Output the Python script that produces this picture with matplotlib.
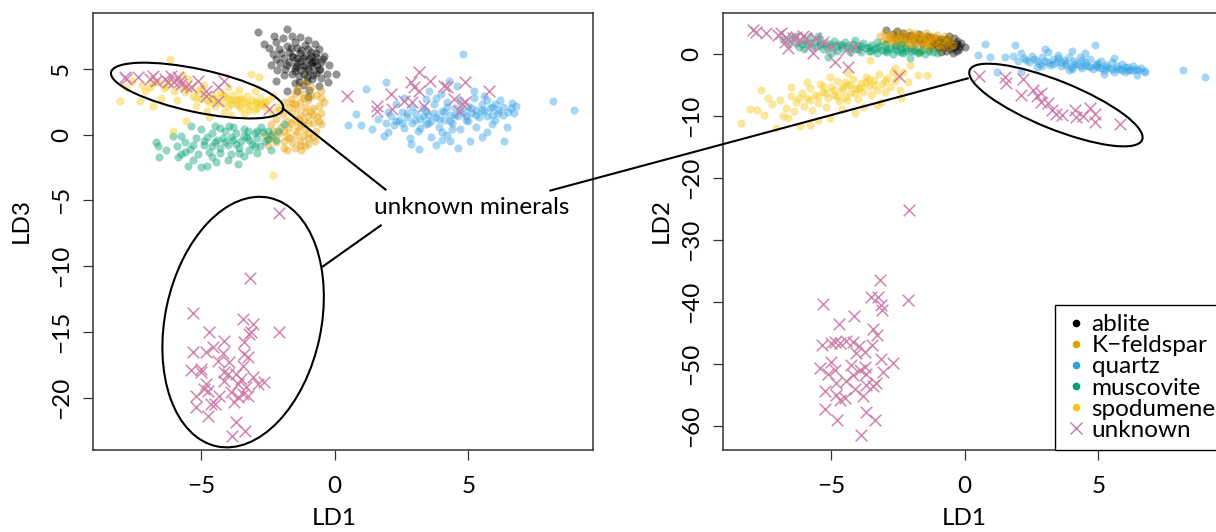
import numpy as np
import matplotlib
matplotlib.use("Agg")
import matplotlib.pyplot as plt
from matplotlib.patches import Ellipse, ConnectionPatch
from matplotlib.lines import Line2D
from matplotlib.transforms import ScaledTranslation

plt.rcParams['font.family'] = ['Lato', 'DejaVu Sans']
FS = 17.5

# ---------------------------------------------------------------- data
classes = ["ablite", "K\u2212feldspar", "quartz", "muscovite", "spodumene"]
class_colors = ["#000000", "#E69F00", "#2D9FE3", "#009E73", "#F5C710"]
unknown_label = "unknown"
unknown_color = "#CC79A7"

x_ticks = [-5, 0, 5]
ld3_ticks = [-20, -15, -10, -5, 0, 5]
ld2_ticks = [-60, -50, -40, -30, -20, -10, 0]

# LD1 / LD3 scores
ablite_ld13 = np.array([
    (-2.88, 7.77), (-1.77, 8.03), (-2.29, 7.45), (-2.64, 6.89), (-2.45, 6.6), (-2.2, 7.0),
    (-1.95, 7.3), (-1.6, 7.5), (-1.3, 7.4), (-1.0, 7.2), (-0.75, 6.9), (-1.5, 7.0),
    (-2.1, 6.5), (-1.8, 6.7), (-1.4, 6.6), (-1.1, 6.8), (-0.6, 6.5), (-0.4, 6.0),
    (-2.3, 6.1), (-2.0, 6.2), (-1.7, 6.3), (-1.3, 6.2), (-0.9, 6.3), (-0.7, 5.9),
    (-2.2, 5.7), (-1.9, 5.8), (-1.55, 5.9), (-1.2, 5.8), (-0.95, 5.7), (-0.5, 5.5),
    (-0.2, 5.3), (-2.4, 5.3), (-2.05, 5.4), (-1.7, 5.5), (-1.4, 5.4), (-1.1, 5.3),
    (-0.8, 5.2), (-0.55, 5.0), (-2.15, 4.9), (-1.85, 5.0), (-1.5, 5.05), (-1.25, 4.9),
    (-0.95, 4.85), (-0.7, 4.7), (-0.3, 4.6), (0.04, 4.61), (-2.2, 4.1), (-1.9, 4.5),
    (-1.6, 4.6), (-1.35, 4.45), (-1.05, 4.4), (-0.85, 4.2), (-0.5, 4.3), (-0.27, 3.97),
    (-1.77, 3.34), (-1.5, 3.9), (-1.2, 3.8), (-0.6, 3.7), (-1.02, 2.84), (-1.4, 3.3),
    (-1.1, 6.0), (-1.3, 5.6), (-0.85, 5.5), (-1.0, 5.0), (-1.15, 4.6), (-0.75, 5.6),
    (-1.6, 6.0), (-0.9, 6.0), (-1.45, 5.2), (-0.65, 5.3),
    (-1.2, 5.2), (-0.9, 5.4), (-1.4, 5.8), (-1.0, 6.5), (-0.7, 6.2), (-1.5, 4.8),
    (-1.25, 6.4), (-0.6, 4.9), (-1.8, 5.3), (-1.05, 4.1), (-0.45, 5.7), (-1.65, 6.6),
    (-0.95, 3.4), (-1.35, 4.0), (-0.8, 4.5),
])
kfeldspar_ld13 = np.array([
    (-1.16, 3.97), (-0.52, 3.34), (-0.4, 2.45), (-1.64, 2.71), (-1.95, 1.57), (-2.32, 0.3),
    (-2.2, -0.58), (-1.77, -1.2), (-1.27, -1.2), (-1.02, -0.71), (-1.39, 0.55), (-1.15, 1.06),
    (-0.9, 1.82), (-0.65, 1.31), (-2.51, -0.33), (-1.4, 3.5), (-0.9, 3.6), (-0.7, 3.0),
    (-1.2, 3.1), (-1.5, 3.1), (-1.9, 2.5), (-1.3, 2.5), (-1.0, 2.6), (-0.6, 2.2),
    (-1.7, 2.1), (-1.4, 2.0), (-1.1, 2.1), (-0.8, 2.0), (-2.1, 1.9), (-1.6, 1.6),
    (-1.3, 1.5), (-1.0, 1.4), (-0.5, 1.6), (-2.2, 1.2), (-1.8, 1.0), (-1.5, 1.1),
    (-0.8, 0.9), (-0.5, 0.8), (-2.4, 0.8), (-2.0, 0.6), (-1.7, 0.5), (-1.1, 0.4),
    (-0.7, 0.3), (-2.1, 0.1), (-1.8, -0.1), (-1.5, 0.0), (-1.2, -0.1), (-0.8, -0.2),
    (-2.5, -0.8), (-1.9, -0.5), (-1.6, -0.6), (-1.3, -0.5), (-1.0, -0.3), (-1.5, -1.0),
    (-1.1, -0.9), (-1.9, -1.0), (-0.75, -0.5), (-1.25, 0.8), (-1.6, 2.4), (-2.6, 0.0),
    (-1.2, 2.8), (-0.9, 2.9), (-1.5, 2.3), (-1.1, 1.7), (-0.8, 1.5), (-1.35, 1.2),
    (-1.65, 0.9), (-1.0, 0.9), (-0.6, 1.0), (-1.4, 0.3), (-1.9, 0.3), (-0.95, 0.1),
    (-1.7, -0.3), (-1.3, -0.8), (-2.3, -0.2), (-0.5, 2.8),
])
quartz_ld13 = np.array([
    (0.5, 0.76), (0.78, 1.57), (0.97, 0.76), (1.16, 3.47), (1.9, 3.97), (1.84, -0.15),
    (8.18, 2.53), (8.97, 1.9), (6.63, 2.38), (6.44, 0.55), (6.32, -0.46), (3.15, -1.09),
    (2.84, -0.71), (4.33, -0.46), (5.07, -0.46), (5.7, 0.17), (3.52, 3.34), (4.27, 4.1),
    (4.58, 3.72), (5.2, 3.34), (3.96, 3.09), (4.8, 6.15),
    (1.6, 1.2), (1.9, 0.9), (2.1, 1.4), (2.2, 0.7), (2.4, 1.1), (2.5, 1.7), (2.6, 0.5),
    (2.7, 1.3), (2.9, 0.9), (3.0, 1.6), (3.1, 0.3), (3.2, 1.2), (3.3, 2.0), (3.4, 0.8),
    (3.5, 1.5), (3.6, 1.0), (3.7, 2.3), (3.8, 1.3), (3.9, 0.6), (4.0, 1.8), (4.1, 1.1),
    (4.2, 2.5), (4.3, 1.5), (4.4, 0.9), (4.5, 2.0), (4.6, 1.4), (4.7, 2.6), (4.8, 1.7),
    (4.9, 1.1), (5.0, 2.2), (5.1, 1.6), (5.2, 2.8), (5.3, 1.9), (5.4, 1.3), (5.5, 2.3),
    (5.6, 1.8), (5.7, 2.6), (5.8, 2.0), (5.9, 1.5), (6.0, 2.3), (6.1, 1.9), (6.2, 2.6),
    (6.3, 2.1), (6.5, 1.7), (6.6, 2.0), (6.8, 2.2), (2.3, 2.3), (2.0, 0.2), (2.8, -0.3),
    (3.6, -0.2), (4.0, 0.2), (4.7, 0.4), (5.3, 0.6), (5.9, 0.8), (3.4, 2.7), (2.6, 2.8),
    (1.4, 0.4), (4.6, -1.0), (3.8, -0.8), (5.5, -0.2), (2.9, 2.1), (4.2, 0.0), (6.0, 1.1),
    (2.3, 1.0), (2.7, 1.6), (3.0, 1.1), (3.3, 1.4), (3.5, 0.9), (3.7, 1.6), (3.9, 1.2),
    (4.1, 1.7), (4.3, 1.0), (4.5, 1.5), (4.7, 1.9), (4.9, 1.4), (5.1, 2.0), (5.3, 1.5),
    (5.5, 1.9), (5.7, 1.4), (5.9, 2.1), (6.1, 1.6), (6.3, 1.5), (4.2, 2.1), (3.4, 1.8),
    (2.5, 0.9), (5.0, 1.0), (4.4, 0.4), (3.2, 0.5), (6.7, 1.6), (2.0, 1.7), (3.8, 2.8),
    (5.6, 2.9), (4.0, -0.4),
])
muscovite_ld13 = np.array([
    (-6.68, -0.58), (-6.62, -0.84), (-6.56, -1.72), (-6.06, -0.08), (-5.75, -0.08), (-5.5, -2.36),
    (-5.37, 0.68), (-5.0, 0.43), (-4.5, 0.68), (-4.44, -2.1), (-3.94, 0.68), (-3.63, -2.23),
    (-3.26, 0.3), (-2.76, 0.55), (-2.51, -0.33), (-2.14, 0.3), (-1.89, 0.81), (-2.39, -1.2),
    (-5.75, -1.47), (-5.87, -1.72), (-6.3, -1.2), (-5.9, -0.9), (-5.6, -0.6), (-5.4, -1.1),
    (-5.2, -0.3), (-5.1, -1.5), (-4.9, -0.8), (-4.8, -0.2), (-4.7, -1.3), (-4.6, 0.1),
    (-4.5, -0.6), (-4.3, -1.0), (-4.2, -0.3), (-4.1, 0.3), (-4.0, -0.8), (-3.9, -1.5),
    (-3.8, -0.4), (-3.7, 0.1), (-3.6, -1.0), (-3.5, -0.5), (-3.4, 0.4), (-3.3, -0.2),
    (-3.2, -1.2), (-3.1, -0.7), (-3.0, 0.1), (-2.9, -0.3), (-2.8, -0.9), (-2.7, 0.2),
    (-2.6, -0.5), (-2.4, 0.0), (-2.2, -0.4), (-4.6, -1.7), (-5.3, -1.9), (-4.0, -1.9),
    (-3.4, -1.6), (-5.0, -2.5), (-4.3, 0.5), (-3.8, 0.6), (-2.9, -1.4), (-4.8, -2.4),
    (-4.4, -0.4), (-4.1, -0.6), (-3.9, -0.2), (-3.7, -0.7), (-4.6, -0.9), (-3.4, -0.1),
    (-3.2, -0.4), (-4.9, -0.5), (-5.3, -0.8), (-3.6, -1.4), (-4.3, -1.4), (-2.9, 0.3),
    (-2.5, 0.3), (-5.6, -1.3), (-3.0, -0.9),
])
spodumene_ld13 = np.array([
    (-8.05, 2.53), (-7.3, 2.58), (-7.1, 3.34), (-6.18, 5.75), (-5.56, 1.06), (-4.69, 1.31),
    (-4.13, 1.69), (-3.38, 1.57), (-2.76, 2.33), (-2.82, 4.36), (-3.13, 4.61), (-2.14, 2.07),
    (-6.06, 0.3), (-2.3, -3.1), (-7.6, 4.1), (-7.2, 3.8), (-6.9, 3.6), (-6.6, 4.0),
    (-6.4, 3.5), (-6.2, 3.9), (-6.0, 3.3), (-5.8, 3.7), (-5.6, 3.2), (-5.4, 3.5),
    (-5.3, 2.9), (-5.1, 3.3), (-5.0, 2.7), (-4.9, 3.1), (-4.7, 2.5), (-4.6, 3.0),
    (-4.5, 2.2), (-4.4, 2.8), (-4.3, 3.2), (-4.2, 2.4), (-4.1, 2.9), (-4.0, 2.1),
    (-3.9, 2.6), (-3.8, 3.0), (-3.7, 2.3), (-3.6, 2.7), (-3.5, 2.0), (-3.4, 2.5),
    (-3.3, 2.9), (-3.2, 2.2), (-3.1, 2.6), (-3.0, 1.9), (-2.9, 2.4), (-2.8, 2.8),
    (-2.6, 2.1), (-2.5, 2.6), (-2.4, 1.8), (-5.9, 2.6), (-6.5, 2.8), (-5.2, 2.2),
    (-4.8, 1.8), (-7.8, 3.6), (-5.5, 4.2), (-4.0, 3.6), (-3.6, 3.4), (-3.9, 1.5),
    (-6.8, 2.2), (-5.7, 4.5), (-4.9, 3.8), (-3.0, 3.3), (-2.3, 2.9),
    (-4.4, 2.5), (-4.0, 2.7), (-3.7, 2.6), (-3.3, 2.4), (-3.0, 2.5), (-2.7, 2.3),
    (-4.6, 2.7), (-4.2, 3.0), (-3.5, 2.8), (-3.9, 2.3), (-5.2, 2.8), (-4.8, 2.6),
    (-3.2, 1.9), (-2.6, 2.5), (-3.6, 2.2), (-5.6, 3.6), (-6.3, 3.7), (-6.8, 3.9),
    (-5.0, 3.5), (-2.9, 2.0),
])
unknown_ld13 = np.array([
    (-7.86, 4.36), (-7.8, 4.23), (-7.36, 4.36), (-6.93, 4.23), (-6.8, 4.48), (-6.68, 4.1),
    (-6.37, 4.23), (-6.24, 3.97), (-6.12, 4.48), (-6.0, 3.97), (-5.87, 4.36), (-5.81, 4.1),
    (-5.75, 3.85), (-5.56, 3.72), (-5.37, 3.6), (-5.12, 4.1), (-4.81, 3.34), (-4.81, 2.96),
    (-4.38, 3.6), (-4.38, 2.58), (-4.13, 4.1), (-2.45, 1.95),
    (0.47, 2.96), (1.59, 2.2), (1.59, 1.82), (2.09, 3.09), (2.15, 1.95), (2.59, 2.58),
    (2.84, 3.97), (2.9, 2.45), (2.96, 3.6), (3.15, 4.73), (3.15, 3.34), (3.58, 4.1),
    (3.33, 2.2), (4.08, 3.72), (4.2, 3.6), (4.45, 2.71), (4.64, 1.82), (4.89, 3.97),
    (4.89, 2.45), (4.76, 2.33), (5.76, 3.34),
    (-2.08, -5.95), (-3.17, -10.89), (-5.29, -13.58), (-2.1, -14.97), (-3.44, -14.0),
    (-3.07, -14.39), (-3.13, -15.02), (-4.69, -15.02), (-4.13, -15.65), (-3.38, -15.78),
    (-5.31, -16.54), (-4.81, -16.54), (-4.56, -16.16), (-4.19, -16.61), (-3.26, -16.92),
    (-5.37, -17.88), (-5.0, -18.06), (-4.38, -17.17), (-3.94, -17.3), (-3.44, -17.55),
    (-4.13, -18.06), (-3.69, -18.18), (-3.07, -18.44), (-2.64, -18.82), (-4.81, -18.95),
    (-4.75, -19.45), (-4.13, -18.69), (-3.63, -18.95), (-3.32, -19.2), (-5.19, -19.83),
    (-4.32, -19.83), (-3.63, -19.96), (-3.26, -19.83), (-4.63, -20.46), (-5.19, -20.67),
    (-3.76, -20.34), (-4.75, -21.35), (-3.69, -21.86), (-3.36, -22.49), (-3.84, -22.87),
    (-5.0, -17.8), (-4.0, -18.18), (-3.51, -18.56), (-2.88, -18.95), (-3.88, -19.58),
    (-3.44, -19.7), (-4.88, -19.32), (-3.38, -16.67), (-3.2, -15.15), (-4.5, -20.46),
])

# LD1 / LD2 scores
ablite_ld12 = np.array([
    (-2.93, 3.92), (-2.55, 3.8), (-2.3, 3.4), (-2.0, 3.2), (-1.7, 3.3), (-1.4, 3.0),
    (-1.31, 2.84), (-1.1, 2.6), (-0.9, 2.4), (-0.7, 2.2), (-0.5, 1.9), (-0.3, 1.6),
    (-0.45, 0.16), (0.0, 1.13), (-0.2, 0.8), (-0.6, 1.2), (-0.8, 1.6), (-1.0, 1.9),
    (-1.2, 2.2), (-1.5, 2.5), (-1.8, 2.7), (-2.1, 2.9), (-2.4, 3.0), (-2.7, 3.3),
    (-0.4, 2.6), (-0.6, 2.9), (-0.3, 2.1), (-0.7, 0.6), (-1.0, 1.0), (-1.3, 1.4),
    (-1.6, 1.8), (-1.9, 2.1), (-2.2, 2.4), (-0.9, 0.3), (-0.15, 1.9), (-0.55, 1.5),
    (-1.15, 1.7), (-0.85, 2.0), (-2.6, 2.7), (-1.7, 2.4),
    (-1.0, 1.3), (-0.8, 1.0), (-0.6, 1.7), (-0.4, 1.2), (-1.2, 1.6), (-0.3, 0.5),
    (-0.7, 2.5), (-0.2, 1.4), (-0.95, 2.3), (-0.5, 0.9),
])
kfeldspar_ld12 = np.array([
    (-3.18, 3.0), (-3.0, 3.5), (-2.9, 2.6), (-2.8, 3.1), (-2.7, 2.2), (-2.6, 3.4),
    (-2.5, 2.7), (-2.4, 1.9), (-2.35, 3.1), (-2.2, 2.4), (-2.1, 3.6), (-2.0, 2.0),
    (-1.95, 2.9), (-1.85, 1.6), (-1.8, 2.5), (-1.7, 3.2), (-1.6, 2.1), (-1.55, 1.3),
    (-1.5, 2.8), (-1.4, 1.8), (-1.3, 2.4), (-1.25, 3.0), (-1.2, 1.2), (-1.1, 2.1),
    (-1.0, 2.7), (-0.95, 1.5), (-0.9, 0.9), (-0.8, 2.3), (-0.7, 1.8), (-0.6, 1.2),
    (-0.5, 2.4), (-0.45, 1.5), (-1.69, 0.42), (-1.35, 0.8), (-2.25, 1.4), (-2.55, 1.9),
    (-2.8, 2.5), (-3.05, 2.2), (-2.0, 1.1), (-1.75, 1.0), (-2.45, 2.3), (-1.6, 2.6),
    (-2.15, 2.8), (-1.85, 3.5), (-1.45, 3.4), (-2.6, 1.5), (-1.05, 3.2), (-0.75, 2.9),
    (-2.9, 1.8), (-1.3, 1.0),
    (-2.0, 2.5), (-1.8, 2.0), (-1.6, 2.9), (-1.4, 2.2), (-1.2, 2.6), (-2.3, 2.0),
    (-2.6, 2.6), (-1.0, 1.7), (-1.5, 1.5), (-2.1, 1.6), (-2.8, 2.8), (-1.9, 3.0),
    (-1.3, 1.9), (-0.7, 2.1), (-2.4, 3.4),
])
quartz_ld12 = np.array([
    (1.87, 1.5), (4.87, 1.5), (0.75, 1.66), (0.5, -0.1), (0.94, -0.4), (1.19, -2.8),
    (2.12, -2.8), (8.18, -2.6), (8.99, -3.6), (6.74, -2.8), (6.43, -3.34),
    (1.8, -0.3), (2.0, -1.0), (2.1, 0.2), (2.2, -0.6), (2.4, -1.3), (2.5, -0.2),
    (2.6, -0.8), (2.8, -1.5), (2.9, -0.4), (3.0, -1.0), (3.1, 0.3), (3.2, -1.7),
    (3.3, -0.7), (3.4, -1.2), (3.5, -0.1), (3.6, -1.9), (3.7, -0.9), (3.8, -1.4),
    (3.9, -0.4), (4.0, -2.0), (4.1, -1.1), (4.2, -1.6), (4.3, -0.5), (4.4, -2.2),
    (4.5, -1.3), (4.6, -1.8), (4.7, -0.8), (4.8, -2.4), (4.9, -1.5), (5.0, -2.0),
    (5.1, -1.0), (5.2, -2.6), (5.3, -1.7), (5.4, -2.2), (5.5, -1.2), (5.6, -2.8),
    (5.7, -1.9), (5.8, -2.4), (5.9, -1.5), (6.0, -2.9), (6.1, -2.1), (6.2, -2.6),
    (6.3, -1.8), (6.4, -2.4), (6.6, -2.2), (6.7, -2.7), (3.0, 0.8), (4.0, 0.5),
    (5.6, -0.6), (2.7, -2.1), (3.9, -2.6), (4.5, 0.2), (5.2, -3.2), (1.5, -0.5),
    (2.3, -0.9), (2.7, -1.1), (3.1, -1.2), (3.3, -1.5), (3.6, -1.2), (3.8, -1.7),
    (4.1, -1.6), (4.3, -1.9), (4.5, -1.7), (4.7, -2.1), (4.9, -1.9), (5.1, -2.2),
    (5.3, -2.1), (5.5, -2.4), (5.7, -2.3), (5.9, -2.6), (6.1, -2.5), (6.3, -2.6),
    (6.5, -2.6), (3.5, -0.6), (4.4, -0.9), (5.0, -1.4), (2.9, -1.8), (4.0, -2.4),
    (6.0, -2.0),
])
muscovite_ld12 = np.array([
    (-6.8, 2.4), (-6.6, 1.6), (-6.5, 2.7), (-6.3, 1.9), (-6.2, 1.2), (-6.0, 2.3),
    (-5.9, 1.6), (-5.8, 2.8), (-5.7, 1.0), (-5.6, 2.0), (-5.5, 1.4), (-5.4, 2.5),
    (-5.3, 0.8), (-5.2, 1.8), (-5.12, -0.39), (-5.0, 1.2), (-4.9, 2.2), (-4.8, 0.6),
    (-4.7, 1.6), (-4.6, 1.0), (-4.5, 2.0), (-4.4, 1.3), (-4.3, 0.4), (-4.2, 1.7),
    (-4.1, 0.9), (-4.0, 1.4), (-3.9, 0.3), (-3.8, 1.9), (-3.7, 1.1), (-3.6, 0.6),
    (-3.5, 1.5), (-3.4, 0.9), (-3.3, 0.2), (-3.2, 1.3), (-3.1, 0.7), (-3.0, 1.6),
    (-2.9, 0.4), (-2.8, 1.0), (-2.7, 0.1), (-2.6, 1.3), (-2.5, 0.6), (-2.4, 0.9),
    (-2.3, 0.2), (-2.2, 1.1), (-2.06, -0.65), (-2.0, 0.5), (-1.9, 0.9), (-1.75, 0.2),
    (-1.6, 0.7), (-1.5, 0.0), (-1.35, 0.5), (-1.2, 0.42), (-1.05, 0.2), (-6.0, 0.9),
    (-5.0, 0.2), (-4.1, 2.3), (-3.3, 2.0), (-2.4, 1.7), (-5.5, 2.9), (-6.35, 2.95),
    (-5.8, 1.9), (-5.4, 1.7), (-5.0, 1.6), (-4.6, 1.5), (-4.3, 1.1), (-3.9, 1.3),
    (-3.6, 1.2), (-3.3, 1.0), (-2.9, 0.9), (-2.6, 0.8), (-2.2, 0.6), (-1.9, 0.5),
    (-6.1, 1.7), (-4.8, 1.3), (-4.0, 0.9), (-3.0, 0.5), (-2.4, 0.4), (-1.7, 0.4),
    (-5.2, 1.3), (-3.5, 0.5),
])
spodumene_ld12 = np.array([
    (-8.36, -11.1), (-8.05, -8.9), (-7.79, -9.0), (-7.61, -5.76), (-7.37, -7.1), (-7.08, -11.9),
    (-6.62, -10.2), (-6.18, -11.56), (-5.81, -11.4), (-5.06, -10.3), (-4.12, -9.5), (-3.81, -8.45),
    (-3.12, -7.64), (-2.43, -5.76), (-2.12, -4.42), (-2.06, -1.73), (-1.75, -3.34), (-1.43, -3.34),
    (-3.56, -0.92), (-2.62, -2.26), (-5.06, -3.61), (-4.37, -3.07),
    (-7.2, -8.0), (-6.9, -7.4), (-6.7, -8.6), (-6.5, -6.8), (-6.4, -9.1), (-6.3, -7.7),
    (-6.1, -6.2), (-6.0, -8.3), (-5.9, -7.0), (-5.8, -5.5), (-5.7, -9.0), (-5.6, -6.5),
    (-5.5, -7.8), (-5.4, -4.8), (-5.3, -6.0), (-5.2, -8.5), (-5.1, -7.1), (-5.0, -5.3),
    (-4.9, -6.6), (-4.8, -4.3), (-4.7, -7.6), (-4.6, -5.8), (-4.5, -6.9), (-4.4, -4.9),
    (-4.3, -6.2), (-4.2, -3.9), (-4.1, -5.4), (-4.0, -7.2), (-3.9, -4.6), (-3.8, -6.0),
    (-3.7, -3.6), (-3.6, -5.1), (-3.5, -6.6), (-3.4, -4.2), (-3.3, -5.7), (-3.2, -3.2),
    (-3.1, -4.8), (-3.0, -6.1), (-2.9, -3.8), (-2.8, -5.2), (-2.7, -2.9), (-2.6, -4.3),
    (-2.5, -3.5), (-2.3, -2.8), (-6.8, -10.0), (-7.5, -9.8), (-5.5, -10.6), (-4.6, -8.8),
    (-5.9, -4.4), (-6.5, -5.2), (-3.3, -8.2), (-2.4, -7.0),
    (-5.5, -6.8), (-5.2, -6.2), (-4.9, -5.8), (-4.6, -5.3), (-4.3, -5.0), (-4.0, -5.6),
    (-3.7, -4.5), (-3.4, -5.0), (-5.8, -7.3), (-4.8, -6.8), (-4.1, -6.3), (-3.6, -3.9),
    (-5.3, -5.1), (-3.9, -5.2), (-4.5, -4.4), (-6.2, -7.0), (-3.0, -4.3), (-4.4, -7.4),
])
unknown_ld12 = np.array([
    (-7.93, 3.92), (-7.8, 3.65), (-7.43, 3.39), (-6.99, 3.11), (-6.87, 3.39), (-6.74, 2.03),
    (-6.68, 2.84), (-6.62, 0.97), (-6.43, 2.58), (-6.3, 2.84), (-6.18, 2.31), (-6.06, 2.95),
    (-5.93, 2.58), (-5.81, 1.5), (-5.68, 0.16), (-5.62, 2.58), (-5.31, 2.03), (-4.99, 1.23),
    (-4.87, -1.19), (-4.43, 0.69), (-4.37, -2.1), (-4.12, 1.23), (-2.46, -3.45),
    (0.54, -3.45), (1.5, -3.61), (1.56, -4.68), (2.16, -4.03), (2.09, -6.56), (2.54, -5.76),
    (2.71, -6.73), (2.87, -6.19), (2.87, -7.64), (3.12, -7.9), (3.25, -8.98), (3.43, -9.63),
    (3.62, -9.79), (4.12, -8.98), (4.18, -10.06), (4.43, -9.95), (4.68, -8.71), (4.87, -9.63),
    (4.89, -10.87), (5.81, -11.24),
    (-2.1, -25.2), (-3.19, -36.35), (-2.12, -39.58), (-5.32, -40.27), (-3.52, -39.2),
    (-3.25, -39.1), (-3.12, -40.4), (-3.08, -41.2), (-4.15, -42.3), (-4.72, -43.5),
    (-3.43, -44.4), (-3.27, -45.3), (-5.34, -46.9), (-4.87, -46.5), (-4.68, -46.6),
    (-4.43, -46.2), (-4.18, -46.4), (-3.96, -47.0), (-3.49, -46.9), (-4.06, -48.2),
    (-3.75, -47.97), (-3.12, -49.2), (-2.69, -49.8), (-4.99, -49.7), (-4.24, -50.1),
    (-3.75, -50.4), (-5.4, -50.6), (-4.87, -50.9), (-5.12, -51.6), (-4.18, -51.7),
    (-3.68, -51.6), (-3.31, -53.1), (-3.06, -51.2), (-4.81, -53.1), (-4.43, -52.8),
    (-3.68, -53.3), (-3.43, -53.6), (-5.22, -54.4), (-4.81, -54.95), (-4.68, -55.8),
    (-4.49, -55.5), (-4.12, -54.1), (-3.81, -55.2), (-5.23, -57.3), (-4.77, -59.0),
    (-3.71, -57.7), (-3.37, -59.1), (-3.87, -61.4), (-3.93, -50.9), (-4.99, -46.6),
])

panel_data = [
    ([ablite_ld13, kfeldspar_ld13, quartz_ld13, muscovite_ld13, spodumene_ld13], unknown_ld13),
    ([ablite_ld12, kfeldspar_ld12, quartz_ld12, muscovite_ld12, spodumene_ld12], unknown_ld12),
]

# ---------------------------------------------------------------- figure
DPI = 100
fig = plt.figure(figsize=(12.16, 5.32), dpi=DPI)
ax1 = fig.add_axes([0.0762, 0.1541, 0.4114, 0.8214])
ax2 = fig.add_axes([0.5943, 0.1541, 0.4114, 0.8214])

for ax, (groups, unk) in zip((ax1, ax2), panel_data):
    for pts, col in zip(groups, class_colors):
        ax.scatter(pts[:, 0], pts[:, 1], s=34, color=col, alpha=0.42,
                   linewidths=0, zorder=2)
    ax.scatter(unk[:, 0], unk[:, 1], s=70, marker='x', color=unknown_color,
               alpha=0.9, linewidths=1.1, zorder=3)
    ax.set_xlim(-9.06, 9.66)
    ax.set_xticks(x_ticks)
    ax.tick_params(direction='out', length=7, width=0.9, color='#333333',
                   labelsize=FS)
    ax.tick_params(axis='x', pad=12)
    ax.tick_params(axis='y', labelrotation=90, pad=8)
    for sp in ax.spines.values():
        sp.set_color('#333333')
        sp.set_linewidth(1.1)

ax1.set_ylim(-23.97, 9.23)
ax1.set_yticks(ld3_ticks)
ax2.set_ylim(-63.87, 6.67)
ax2.set_yticks(ld2_ticks)

for ax in (ax1, ax2):
    for lab in ax.get_yticklabels():
        lab.set_va('center')

ax1.set_xlabel("LD1", fontsize=FS)
ax1.set_ylabel("LD3", fontsize=FS)
ax2.set_xlabel("LD1", fontsize=FS)
ax2.set_ylabel("LD2", fontsize=FS)
for ax, yx in ((ax1, -0.142), (ax2, -0.122)):
    ax.xaxis.label.set_va('center')
    ax.yaxis.label.set_va('center')
    ax.xaxis.set_label_coords(0.483, -0.156)
    ax.yaxis.set_label_coords(yx, 0.526)

# legend, anchored at its lower left corner
handles = [Line2D([], [], ls='', marker='o', markersize=5.5, color=c,
                  markeredgewidth=0) for c in class_colors]
handles.append(Line2D([], [], ls='', marker='x', markersize=8,
                      color=unknown_color, markeredgewidth=1.0))
leg = ax2.legend(handles, classes + [unknown_label], loc='lower left',
                 bbox_to_anchor=(0.665, 0.0), borderaxespad=0, fontsize=FS,
                 frameon=True, fancybox=False, edgecolor='black',
                 framealpha=1, labelspacing=0.0, handlelength=0.95,
                 handletextpad=0.15, borderpad=0.39)
leg.get_frame().set_linewidth(1.0)


# ellipses and connector lines of the annotation
def pixel_ellipse(ax, center, w, h, angle):
    e = Ellipse((0, 0), w, h, angle=angle, fill=False, ec='black', lw=1.5,
                transform=ScaledTranslation(center[0], center[1], ax.transData),
                clip_on=False, zorder=5)
    ax.add_artist(e)


pixel_ellipse(ax1, (-5.15, 3.34), 176, 43, -12)
pixel_ellipse(ax1, (-3.43, -14.25), 156, 254, -12)
pixel_ellipse(ax2, (3.41, -8.18), 186, 48, -22)

ax1.text(5.11, -5.55, "unknown minerals", ha='center', va='center',
         fontsize=FS, zorder=6)
ax1.plot([-1.94, 1.90], [1.98, -4.18], color='black', lw=1.5, zorder=5,
         clip_on=False)
ax1.plot([1.72, -0.45], [-6.91, -10.03], color='black', lw=1.5, zorder=5,
         clip_on=False)
con = ConnectionPatch(xyA=(8.06, -4.26), coordsA=ax1.transData,
                      xyB=(0.12, -3.87), coordsB=ax2.transData,
                      color='black', lw=1.5, zorder=6)
fig.add_artist(con)

fig.savefig("out.png", dpi=DPI)
